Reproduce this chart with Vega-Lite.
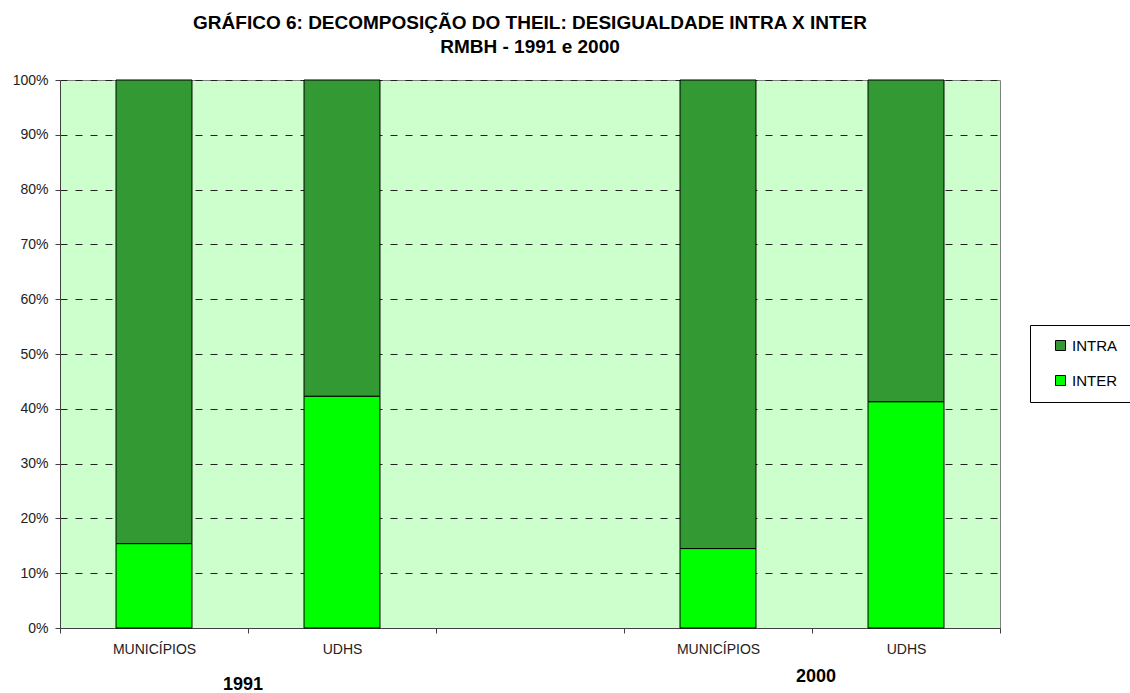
{
  "$schema": "https://vega.github.io/schema/vega-lite/v6.json",
  "width": 940,
  "height": 548,
  "autosize": {"type": "none"},
  "padding": {"left": 60, "top": 80, "right": 130, "bottom": 65},
  "background": "white",
  "config": {
    "font": "Liberation Sans",
    "view": {"fill": "#CCFFCC", "stroke": "#808080", "strokeWidth": 1}
  },
  "title": {
    "text": ["GRÁFICO 6: DECOMPOSIÇÃO DO THEIL: DESIGUALDADE INTRA X INTER", "RMBH - 1991 e 2000"],
    "fontSize": 19,
    "fontWeight": "bold",
    "lineHeight": 24,
    "anchor": "middle",
    "frame": "group",
    "color": "black",
    "offset": 16
  },
  "datasets": {
    "bars": [
      {"key": "1991|MUNICÍPIOS", "comp": "INTER", "ord": 1, "value": 0.154},
      {"key": "1991|MUNICÍPIOS", "comp": "INTRA", "ord": 2, "value": 0.846},
      {"key": "1991|UDHS", "comp": "INTER", "ord": 1, "value": 0.423},
      {"key": "1991|UDHS", "comp": "INTRA", "ord": 2, "value": 0.577},
      {"key": "2000|MUNICÍPIOS", "comp": "INTER", "ord": 1, "value": 0.145},
      {"key": "2000|MUNICÍPIOS", "comp": "INTRA", "ord": 2, "value": 0.855},
      {"key": "2000|UDHS", "comp": "INTER", "ord": 1, "value": 0.413},
      {"key": "2000|UDHS", "comp": "INTRA", "ord": 2, "value": 0.587}
    ]
  },
  "layer": [
    {
      "data": {"name": "bars"},
      "mark": {"type": "bar", "width": {"band": 0.404}, "stroke": "black", "strokeWidth": 1},
      "encoding": {
        "x": {
          "field": "key",
          "type": "nominal",
          "scale": {"domain": ["1991|MUNICÍPIOS", "1991|UDHS", "gap", "2000|MUNICÍPIOS", "2000|UDHS"], "paddingInner": 0, "paddingOuter": 0},
          "axis": {
            "title": null,
            "labelExpr": "datum.value == 'gap' ? '' : split(datum.value, '|')[1]",
            "labelAngle": 0,
            "labelFontSize": 14,
            "labelColor": "#222222",
            "labelPadding": 9,
            "tickBand": "extent",
            "tickSize": 5,
            "tickColor": "#404040",
            "domainColor": "#404040",
            "grid": false
          }
        },
        "y": {
          "field": "value",
          "type": "quantitative",
          "stack": "zero",
          "scale": {"domain": [0, 1]},
          "axis": {
            "title": null,
            "format": ".0%",
            "values": [0, 0.1, 0.2, 0.3, 0.4, 0.5, 0.6, 0.7, 0.8, 0.9, 1],
            "labelFontSize": 14,
            "labelColor": "#222222",
            "labelPadding": 7,
            "tickSize": 5,
            "tickColor": "#404040",
            "domainColor": "#404040",
            "grid": true,
            "gridColor": "#222222",
            "gridDash": [7, 8],
            "gridWidth": 1
          }
        },
        "color": {
          "field": "comp",
          "type": "nominal",
          "scale": {"domain": ["INTRA", "INTER"], "range": ["#339933", "#00FF00"]},
          "legend": {
            "title": null,
            "orient": "none",
            "legendX": 970,
            "legendY": 245,
            "symbolType": "square",
            "symbolSize": 100,
            "symbolStrokeColor": "black",
            "symbolStrokeWidth": 1,
            "symbolOpacity": 1,
            "symbolOffset": 10,
            "labelOffset": 4,
            "labelFontSize": 15,
            "labelColor": "black",
            "rowPadding": 19,
            "padding": 13,
            "strokeColor": "black",
            "fillColor": "white"
          }
        },
        "order": {"field": "ord", "type": "quantitative"}
      }
    },
    {
      "data": {"values": [{"key": "1991|UDHS", "year": "1991"}]},
      "mark": {"type": "text", "fontSize": 18, "fontWeight": "bold", "color": "black", "dy": 57, "dx": -5, "baseline": "middle"},
      "encoding": {
        "x": {"field": "key", "type": "nominal", "bandPosition": 0},
        "y": {"datum": 0},
        "text": {"field": "year"}
      }
    },
    {
      "data": {"values": [{"key": "2000|MUNICÍPIOS", "year": "2000"}]},
      "mark": {"type": "text", "fontSize": 18, "fontWeight": "bold", "color": "black", "dy": 49, "dx": 4, "baseline": "middle"},
      "encoding": {
        "x": {"field": "key", "type": "nominal", "bandPosition": 1},
        "y": {"datum": 0},
        "text": {"field": "year"}
      }
    }
  ]
}
